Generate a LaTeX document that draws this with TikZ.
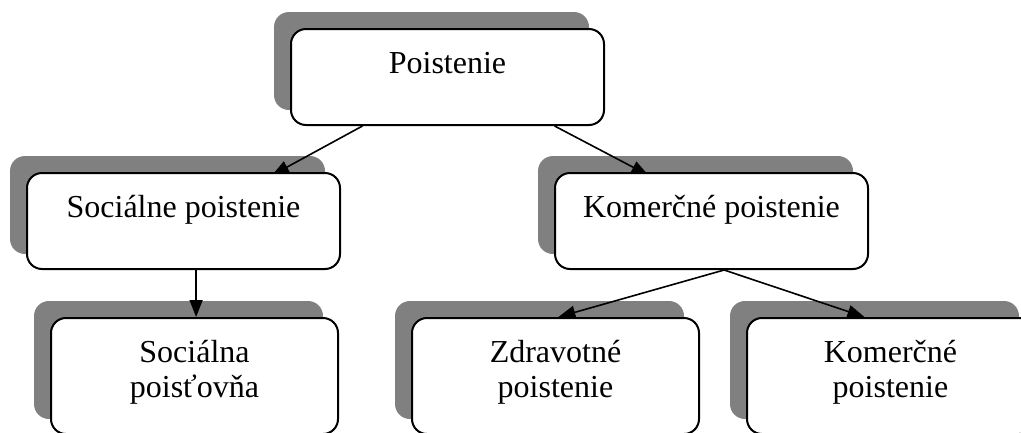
\documentclass[tikz,border=0pt]{standalone}
\usepackage{fontspec}
\setmainfont{Liberation Serif}
\usetikzlibrary{calc,arrows.meta}
\pgfdeclarelayer{shadowlayer}
\pgfdeclarelayer{connlayer}
\pgfsetlayers{shadowlayer,connlayer,main}
\begin{document}
\begin{tikzpicture}[x=1pt,y=-1pt,
  box/.style={draw, line width=2pt, rounded corners=15pt, fill=white,
    anchor=north west, inner sep=0pt},
  shadowbox/.style={fill=gray, rounded corners=15pt},
  wide/.style={minimum width=313pt, minimum height=96pt},
  tall/.style={minimum width=287pt, minimum height=116pt},
  lbl/.style={font=\fontsize{32}{35}\selectfont, align=center, anchor=base, inner sep=0pt},
  conn/.style={line width=1.6pt, -{Triangle[length=17pt,width=13pt]}}]
\useasboundingbox (0,0) rectangle (1021,432);
% boxes
\node[box,wide] (P)  at (290,28)  {};
\node[box,wide] (S)  at (26,172)  {};
\node[box,wide] (K)  at (554,172) {};
\node[box,tall] (SA) at (50,317)  {};
\node[box,tall] (Z)  at (411,317) {};
\node[box,tall] (K2) at (746,317) {};
% shadows
\begin{pgfonlayer}{shadowlayer}
\foreach \b in {P,S,K,SA,Z,K2}{
  \fill[shadowbox] ($(\b.south west)+(-16,-16)$) rectangle ($(\b.north east)+(-16,-16)$);
}
\end{pgfonlayer}
% labels
\node[lbl] (tP)  at ($(P.north)+(0,45)$)  {Poistenie};
\node[lbl] (tS)  at ($(S.north)+(0,45)$)  {Sociálne poistenie};
\node[lbl] (tK)  at ($(K.north)+(0,45)$)  {Komerčné poistenie};
\node[lbl] (tSA) at ($(SA.north)+(0,80)$) {Sociálna\\poisťovňa};
\node[lbl] (tZ)  at ($(Z.north)+(0,80)$)  {Zdravotné\\poistenie};
\node[lbl] (tK2) at ($(K2.north)+(0,80)$) {Komerčné\\poistenie};
% connector ends
\coordinate (p1) at ($(P.south west)!0.23!(P.south east)$);
\coordinate (p2) at ($(P.south west)!0.84!(P.south east)$);
\coordinate (s0) at ($(S.north west)!0.80!(S.north east)$);
\coordinate (k0) at ($(K.north west)!0.28!(K.north east)$);
\coordinate (s1) at ($(S.south west)!0.54!(S.south east)$);
\coordinate (k1) at ($(K.south west)!0.54!(K.south east)$);
\coordinate (z0) at ($(Z.north west)!0.51!(Z.north east)$);
\coordinate (k20) at ($(K2.north west)!0.41!(K2.north east)$);
% connectors
\begin{pgfonlayer}{connlayer}
\draw[conn] (p1) -- ($(p1)!1.07!(s0)$);
\draw[conn] (p2) -- ($(p2)!1.07!(k0)$);
\end{pgfonlayer}
\draw[conn] (s1) -- (s1 |- SA.north);
\draw[conn] (k1) -- (z0);
\draw[conn] (k1) -- (k20);
\end{tikzpicture}
\end{document}
